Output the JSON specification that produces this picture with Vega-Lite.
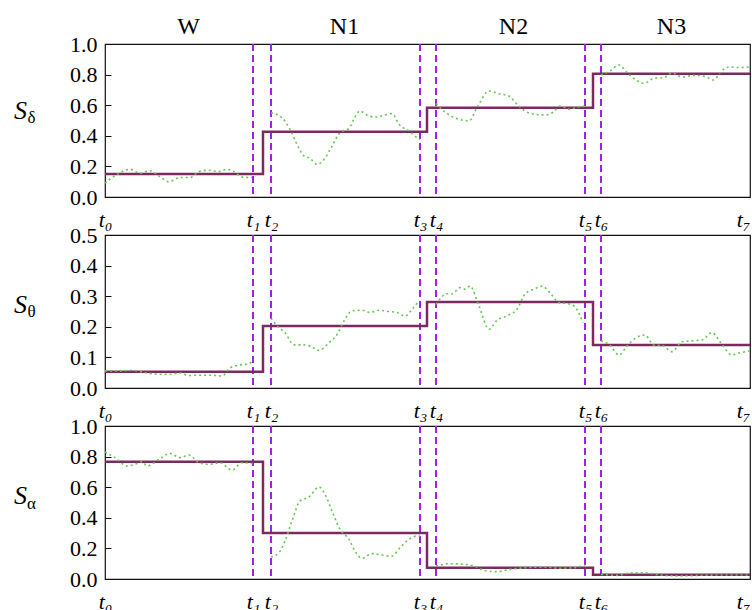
{
 "$schema": "https://vega.github.io/schema/vega-lite/v6.json",
 "padding": {"left": 12, "top": 13, "right": 0, "bottom": 0},
 "bounds": "flush",
 "spacing": 38,
 "config": {
  "view": {"stroke": "#111", "strokeWidth": 1.2},
  "font": "Liberation Serif",
  "axis": {"labelFont": "Liberation Serif", "titleFont": "Liberation Serif", "labelColor": "#000", "titleColor": "#000", "grid": false, "titleFontWeight": "normal"}
 },
 "datasets": {
  "tk": [{"x":148},{"x":166},{"x":315},{"x":331},{"x":480},{"x":496}],
  "step": [
   {"p":"d","x":0,"y":0.15},{"p":"d","x":158,"y":0.427},{"p":"d","x":322,"y":0.584},{"p":"d","x":488,"y":0.806},{"p":"d","x":645,"y":0.806},
   {"p":"t","x":0,"y":0.053},{"p":"t","x":158,"y":0.203},{"p":"t","x":322,"y":0.281},{"p":"t","x":488,"y":0.1405},{"p":"t","x":645,"y":0.1405},
   {"p":"a","x":0,"y":0.767},{"p":"a","x":158,"y":0.30},{"p":"a","x":322,"y":0.074},{"p":"a","x":488,"y":0.028},{"p":"a","x":645,"y":0.028}
  ],
  "obs": [
   {"p":"d","s":1,"x":0,"y":0.09},{"p":"d","s":1,"x":12,"y":0.148},{"p":"d","s":1,"x":25,"y":0.181},{"p":"d","s":1,"x":35,"y":0.155},{"p":"d","s":1,"x":45,"y":0.172},{"p":"d","s":1,"x":54,"y":0.137},{"p":"d","s":1,"x":64,"y":0.10},{"p":"d","s":1,"x":75,"y":0.127},{"p":"d","s":1,"x":85,"y":0.127},{"p":"d","s":1,"x":94,"y":0.166},{"p":"d","s":1,"x":104,"y":0.175},{"p":"d","s":1,"x":114,"y":0.166},{"p":"d","s":1,"x":122,"y":0.181},{"p":"d","s":1,"x":129,"y":0.166},{"p":"d","s":1,"x":137,"y":0.131},{"p":"d","s":1,"x":147,"y":0.127},
   {"p":"d","s":2,"x":166,"y":0.55},{"p":"d","s":2,"x":177,"y":0.518},{"p":"d","s":2,"x":185,"y":0.442},{"p":"d","s":2,"x":192,"y":0.344},{"p":"d","s":2,"x":199,"y":0.268},{"p":"d","s":2,"x":205,"y":0.253},{"p":"d","s":2,"x":212,"y":0.213},{"p":"d","s":2,"x":219,"y":0.245},{"p":"d","s":2,"x":227,"y":0.333},{"p":"d","s":2,"x":235,"y":0.42},{"p":"d","s":2,"x":244,"y":0.449},{"p":"d","s":2,"x":250,"y":0.523},{"p":"d","s":2,"x":255,"y":0.562},{"p":"d","s":2,"x":264,"y":0.529},{"p":"d","s":2,"x":272,"y":0.523},{"p":"d","s":2,"x":280,"y":0.536},{"p":"d","s":2,"x":287,"y":0.545},{"p":"d","s":2,"x":294,"y":0.475},{"p":"d","s":2,"x":304,"y":0.431},{"p":"d","s":2,"x":312,"y":0.388},{"p":"d","s":2,"x":315,"y":0.375},
   {"p":"d","s":3,"x":331,"y":0.61},{"p":"d","s":3,"x":342,"y":0.545},{"p":"d","s":3,"x":354,"y":0.508},{"p":"d","s":3,"x":364,"y":0.497},{"p":"d","s":3,"x":372,"y":0.584},{"p":"d","s":3,"x":384,"y":0.693},{"p":"d","s":3,"x":394,"y":0.675},{"p":"d","s":3,"x":404,"y":0.66},{"p":"d","s":3,"x":412,"y":0.606},{"p":"d","s":3,"x":420,"y":0.562},{"p":"d","s":3,"x":430,"y":0.54},{"p":"d","s":3,"x":440,"y":0.536},{"p":"d","s":3,"x":449,"y":0.558},{"p":"d","s":3,"x":455,"y":0.595},{"p":"d","s":3,"x":465,"y":0.573},{"p":"d","s":3,"x":472,"y":0.588},{"p":"d","s":3,"x":480,"y":0.593},
   {"p":"d","s":4,"x":496,"y":0.797},{"p":"d","s":4,"x":505,"y":0.824},{"p":"d","s":4,"x":514,"y":0.863},{"p":"d","s":4,"x":522,"y":0.813},{"p":"d","s":4,"x":530,"y":0.769},{"p":"d","s":4,"x":539,"y":0.743},{"p":"d","s":4,"x":549,"y":0.776},{"p":"d","s":4,"x":559,"y":0.78},{"p":"d","s":4,"x":567,"y":0.81},{"p":"d","s":4,"x":577,"y":0.784},{"p":"d","s":4,"x":589,"y":0.795},{"p":"d","s":4,"x":600,"y":0.788},{"p":"d","s":4,"x":609,"y":0.765},{"p":"d","s":4,"x":615,"y":0.813},{"p":"d","s":4,"x":624,"y":0.85},{"p":"d","s":4,"x":634,"y":0.846},{"p":"d","s":4,"x":645,"y":0.85},
   {"p":"t","s":1,"x":0,"y":0.056},{"p":"t","s":1,"x":17,"y":0.056},{"p":"t","s":1,"x":27,"y":0.058},{"p":"t","s":1,"x":40,"y":0.05},{"p":"t","s":1,"x":54,"y":0.045},{"p":"t","s":1,"x":67,"y":0.045},{"p":"t","s":1,"x":74,"y":0.05},{"p":"t","s":1,"x":84,"y":0.041},{"p":"t","s":1,"x":97,"y":0.042},{"p":"t","s":1,"x":110,"y":0.041},{"p":"t","s":1,"x":117,"y":0.039},{"p":"t","s":1,"x":125,"y":0.066},{"p":"t","s":1,"x":134,"y":0.075},{"p":"t","s":1,"x":144,"y":0.079},{"p":"t","s":1,"x":148,"y":0.094},
   {"p":"t","s":2,"x":166,"y":0.228},{"p":"t","s":2,"x":174,"y":0.197},{"p":"t","s":2,"x":180,"y":0.181},{"p":"t","s":2,"x":189,"y":0.141},{"p":"t","s":2,"x":197,"y":0.141},{"p":"t","s":2,"x":205,"y":0.137},{"p":"t","s":2,"x":214,"y":0.123},{"p":"t","s":2,"x":224,"y":0.148},{"p":"t","s":2,"x":232,"y":0.175},{"p":"t","s":2,"x":239,"y":0.219},{"p":"t","s":2,"x":247,"y":0.252},{"p":"t","s":2,"x":257,"y":0.254},{"p":"t","s":2,"x":265,"y":0.247},{"p":"t","s":2,"x":274,"y":0.254},{"p":"t","s":2,"x":284,"y":0.25},{"p":"t","s":2,"x":292,"y":0.247},{"p":"t","s":2,"x":300,"y":0.235},{"p":"t","s":2,"x":307,"y":0.257},{"p":"t","s":2,"x":314,"y":0.285},
   {"p":"t","s":3,"x":331,"y":0.273},{"p":"t","s":3,"x":342,"y":0.308},{"p":"t","s":3,"x":347,"y":0.307},{"p":"t","s":3,"x":355,"y":0.328},{"p":"t","s":3,"x":360,"y":0.323},{"p":"t","s":3,"x":365,"y":0.333},{"p":"t","s":3,"x":374,"y":0.268},{"p":"t","s":3,"x":384,"y":0.192},{"p":"t","s":3,"x":392,"y":0.221},{"p":"t","s":3,"x":404,"y":0.239},{"p":"t","s":3,"x":412,"y":0.257},{"p":"t","s":3,"x":420,"y":0.307},{"p":"t","s":3,"x":429,"y":0.323},{"p":"t","s":3,"x":437,"y":0.333},{"p":"t","s":3,"x":445,"y":0.311},{"p":"t","s":3,"x":454,"y":0.279},{"p":"t","s":3,"x":462,"y":0.276},{"p":"t","s":3,"x":469,"y":0.268},{"p":"t","s":3,"x":478,"y":0.213},
   {"p":"t","s":4,"x":496,"y":0.154},{"p":"t","s":4,"x":504,"y":0.143},{"p":"t","s":4,"x":514,"y":0.108},{"p":"t","s":4,"x":522,"y":0.137},{"p":"t","s":4,"x":530,"y":0.162},{"p":"t","s":4,"x":540,"y":0.173},{"p":"t","s":4,"x":549,"y":0.14},{"p":"t","s":4,"x":557,"y":0.139},{"p":"t","s":4,"x":567,"y":0.119},{"p":"t","s":4,"x":577,"y":0.151},{"p":"t","s":4,"x":587,"y":0.154},{"p":"t","s":4,"x":597,"y":0.157},{"p":"t","s":4,"x":607,"y":0.181},{"p":"t","s":4,"x":617,"y":0.142},{"p":"t","s":4,"x":627,"y":0.108},{"p":"t","s":4,"x":635,"y":0.115},{"p":"t","s":4,"x":645,"y":0.121},
   {"p":"a","s":1,"x":0,"y":0.83},{"p":"a","s":1,"x":10,"y":0.793},{"p":"a","s":1,"x":22,"y":0.739},{"p":"a","s":1,"x":30,"y":0.75},{"p":"a","s":1,"x":37,"y":0.767},{"p":"a","s":1,"x":42,"y":0.739},{"p":"a","s":1,"x":54,"y":0.782},{"p":"a","s":1,"x":65,"y":0.821},{"p":"a","s":1,"x":75,"y":0.793},{"p":"a","s":1,"x":84,"y":0.81},{"p":"a","s":1,"x":94,"y":0.76},{"p":"a","s":1,"x":104,"y":0.75},{"p":"a","s":1,"x":115,"y":0.76},{"p":"a","s":1,"x":127,"y":0.712},{"p":"a","s":1,"x":137,"y":0.76},{"p":"a","s":1,"x":148,"y":0.754},
   {"p":"a","s":2,"x":166,"y":0.144},{"p":"a","s":2,"x":174,"y":0.172},{"p":"a","s":2,"x":180,"y":0.248},{"p":"a","s":2,"x":187,"y":0.379},{"p":"a","s":2,"x":195,"y":0.51},{"p":"a","s":2,"x":204,"y":0.536},{"p":"a","s":2,"x":214,"y":0.601},{"p":"a","s":2,"x":220,"y":0.553},{"p":"a","s":2,"x":227,"y":0.444},{"p":"a","s":2,"x":235,"y":0.325},{"p":"a","s":2,"x":244,"y":0.259},{"p":"a","s":2,"x":250,"y":0.183},{"p":"a","s":2,"x":257,"y":0.135},{"p":"a","s":2,"x":267,"y":0.166},{"p":"a","s":2,"x":277,"y":0.157},{"p":"a","s":2,"x":287,"y":0.15},{"p":"a","s":2,"x":295,"y":0.205},{"p":"a","s":2,"x":304,"y":0.259},{"p":"a","s":2,"x":312,"y":0.281},{"p":"a","s":2,"x":315,"y":0.28},
   {"p":"a","s":3,"x":331,"y":0.085},{"p":"a","s":3,"x":345,"y":0.1},{"p":"a","s":3,"x":359,"y":0.096},{"p":"a","s":3,"x":369,"y":0.085},{"p":"a","s":3,"x":379,"y":0.057},{"p":"a","s":3,"x":392,"y":0.048},{"p":"a","s":3,"x":405,"y":0.063},{"p":"a","s":3,"x":422,"y":0.074},{"p":"a","s":3,"x":439,"y":0.078},{"p":"a","s":3,"x":455,"y":0.07},{"p":"a","s":3,"x":469,"y":0.074},{"p":"a","s":3,"x":480,"y":0.092},
   {"p":"a","s":4,"x":496,"y":0.03},{"p":"a","s":4,"x":512,"y":0.024},{"p":"a","s":4,"x":525,"y":0.039},{"p":"a","s":4,"x":539,"y":0.041},{"p":"a","s":4,"x":555,"y":0.026},{"p":"a","s":4,"x":575,"y":0.02},{"p":"a","s":4,"x":595,"y":0.024},{"p":"a","s":4,"x":615,"y":0.026},{"p":"a","s":4,"x":635,"y":0.026},{"p":"a","s":4,"x":645,"y":0.026}
  ]
 },
 "vconcat": [
  {
   "width": 645, "height": 153,
   "layer": [
    {"data": {"name": "tk"}, "mark": {"type": "rule", "color": "#a020e8", "strokeDash": [7, 4], "strokeWidth": 2},
     "encoding": {"x": {"field": "x", "type": "quantitative", "scale": {"domain": [0, 645], "nice": false, "zero": false},
      "axis": {"orient": "bottom", "values": [0, 148, 166, 315, 331, 480, 496, 645], "labelExpr": "['t₀','t₁','t₂','t₃','t₄','t₅','t₆','t₇'][indexof([0,148,166,315,331,480,496,645], datum.value)]", "ticks": false, "domain": false, "labelFontSize": 22, "labelFontStyle": "italic", "labelPadding": 12, "labelOverlap": false, "labelFlush": false, "labelBound": false, "labelAlign": {"condition": {"test": "datum.value == 645", "value": "right"}, "value": "center"}, "title": null}}}},
    {"data": {"name": "step"}, "transform": [{"filter": "datum.p == 'd'"}],
     "mark": {"type": "line", "interpolate": "step-after", "color": "#7b2a5f", "strokeWidth": 2.5},
     "encoding": {
      "x": {"field": "x", "type": "quantitative", "axis": {"orient": "top", "values": [83, 239, 408, 566], "labelExpr": "['W','N1','N2','N3'][indexof([83,239,408,566], datum.value)]", "ticks": false, "domain": false, "labelFontSize": 24, "labelPadding": 6, "labelOverlap": false, "labelFlush": false, "labelBound": false, "title": null}},
      "y": {"field": "y", "type": "quantitative", "scale": {"domain": [0, 1], "nice": false},
       "axis": {"values": [0, 0.2, 0.4, 0.6, 0.8, 1.0], "format": ".1f", "tickSize": -6, "tickColor": "#111", "domain": false, "labelFontSize": 22, "labelPadding": 14, "title": "S", "titleAngle": 0, "titleFontStyle": "italic", "titleFontSize": 26, "titleX": -85, "titleY": 66, "titleAlign": "center", "titleBaseline": "middle"}}
     }},
    {"data": {"name": "obs"}, "transform": [{"filter": "datum.p == 'd'"}],
     "mark": {"type": "line", "interpolate": "monotone", "color": "#63c752", "strokeDash": [2, 3], "strokeWidth": 1.6},
     "encoding": {
      "x": {"field": "x", "type": "quantitative", "axis": null},
      "y": {"field": "y", "type": "quantitative", "axis": {"orient": "right", "labels": false, "ticks": false, "domain": false, "title": "δ", "titleAngle": 0, "titleFontSize": 17, "titleX": -719, "titleY": 73, "titleAlign": "center", "titleBaseline": "middle"}},
      "detail": {"field": "s", "type": "nominal"}
     }}
   ],
   "resolve": {"axis": {"x": "independent", "y": "independent"}}
  },
  {
   "width": 645, "height": 153,
   "layer": [
    {"data": {"name": "tk"}, "mark": {"type": "rule", "color": "#a020e8", "strokeDash": [7, 4], "strokeWidth": 2},
     "encoding": {"x": {"field": "x", "type": "quantitative", "scale": {"domain": [0, 645], "nice": false, "zero": false},
      "axis": {"orient": "bottom", "values": [0, 148, 166, 315, 331, 480, 496, 645], "labelExpr": "['t₀','t₁','t₂','t₃','t₄','t₅','t₆','t₇'][indexof([0,148,166,315,331,480,496,645], datum.value)]", "ticks": false, "domain": false, "labelFontSize": 22, "labelFontStyle": "italic", "labelPadding": 12, "labelOverlap": false, "labelFlush": false, "labelBound": false, "labelAlign": {"condition": {"test": "datum.value == 645", "value": "right"}, "value": "center"}, "title": null}}}},
    {"data": {"name": "step"}, "transform": [{"filter": "datum.p == 't'"}],
     "mark": {"type": "line", "interpolate": "step-after", "color": "#7b2a5f", "strokeWidth": 2.5},
     "encoding": {
      "x": {"field": "x", "type": "quantitative", "axis": null},
      "y": {"field": "y", "type": "quantitative", "scale": {"domain": [0, 0.5], "nice": false},
       "axis": {"values": [0, 0.1, 0.2, 0.3, 0.4, 0.5], "format": ".1f", "tickSize": -6, "tickColor": "#111", "domain": false, "labelFontSize": 22, "labelPadding": 14, "title": "S", "titleAngle": 0, "titleFontStyle": "italic", "titleFontSize": 26, "titleX": -85, "titleY": 69, "titleAlign": "center", "titleBaseline": "middle"}}
     }},
    {"data": {"name": "obs"}, "transform": [{"filter": "datum.p == 't'"}],
     "mark": {"type": "line", "interpolate": "monotone", "color": "#63c752", "strokeDash": [2, 3], "strokeWidth": 1.6},
     "encoding": {
      "x": {"field": "x", "type": "quantitative", "axis": null},
      "y": {"field": "y", "type": "quantitative", "axis": {"orient": "right", "labels": false, "ticks": false, "domain": false, "title": "θ", "titleAngle": 0, "titleFontSize": 17, "titleX": -719, "titleY": 76, "titleAlign": "center", "titleBaseline": "middle"}},
      "detail": {"field": "s", "type": "nominal"}
     }}
   ],
   "resolve": {"axis": {"x": "independent", "y": "independent"}}
  },
  {
   "width": 645, "height": 153,
   "layer": [
    {"data": {"name": "tk"}, "mark": {"type": "rule", "color": "#a020e8", "strokeDash": [7, 4], "strokeWidth": 2},
     "encoding": {"x": {"field": "x", "type": "quantitative", "scale": {"domain": [0, 645], "nice": false, "zero": false},
      "axis": {"orient": "bottom", "values": [0, 148, 166, 315, 331, 480, 496, 645], "labelExpr": "['t₀','t₁','t₂','t₃','t₄','t₅','t₆','t₇'][indexof([0,148,166,315,331,480,496,645], datum.value)]", "ticks": false, "domain": false, "labelFontSize": 22, "labelFontStyle": "italic", "labelPadding": 12, "labelOverlap": false, "labelFlush": false, "labelBound": false, "labelAlign": {"condition": {"test": "datum.value == 645", "value": "right"}, "value": "center"}, "title": null}}}},
    {"data": {"name": "step"}, "transform": [{"filter": "datum.p == 'a'"}],
     "mark": {"type": "line", "interpolate": "step-after", "color": "#7b2a5f", "strokeWidth": 2.5},
     "encoding": {
      "x": {"field": "x", "type": "quantitative", "axis": null},
      "y": {"field": "y", "type": "quantitative", "scale": {"domain": [0, 1], "nice": false},
       "axis": {"values": [0, 0.2, 0.4, 0.6, 0.8, 1.0], "format": ".1f", "tickSize": -6, "tickColor": "#111", "domain": false, "labelFontSize": 22, "labelPadding": 14, "title": "S", "titleAngle": 0, "titleFontStyle": "italic", "titleFontSize": 26, "titleX": -85, "titleY": 69, "titleAlign": "center", "titleBaseline": "middle"}}
     }},
    {"data": {"name": "obs"}, "transform": [{"filter": "datum.p == 'a'"}],
     "mark": {"type": "line", "interpolate": "monotone", "color": "#63c752", "strokeDash": [2, 3], "strokeWidth": 1.6},
     "encoding": {
      "x": {"field": "x", "type": "quantitative", "axis": null},
      "y": {"field": "y", "type": "quantitative", "axis": {"orient": "right", "labels": false, "ticks": false, "domain": false, "title": "α", "titleAngle": 0, "titleFontSize": 17, "titleX": -719, "titleY": 77, "titleAlign": "center", "titleBaseline": "middle"}},
      "detail": {"field": "s", "type": "nominal"}
     }}
   ],
   "resolve": {"axis": {"x": "independent", "y": "independent"}}
  }
 ]
}
